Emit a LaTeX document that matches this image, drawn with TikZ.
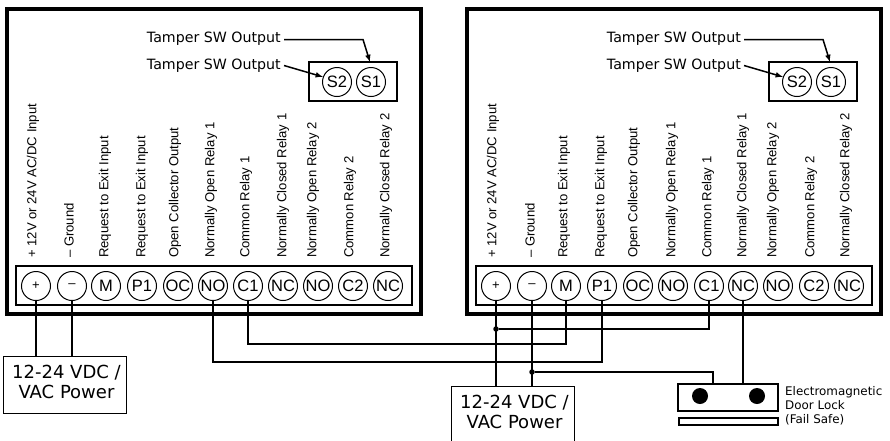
\documentclass[tikz,border=0pt]{standalone}
\usepackage{fontspec}
\setmainfont{Liberation Sans}
\newfontfamily\widefont{DejaVu Sans}
\tikzset{
    panel/.style = {draw, line width = 4pt},
    strip/.style = {draw, line width = 1.5pt},
    term/.style = {draw, circle, line width = 1pt, minimum size = 29pt, inner sep = 0pt, font = \fontsize{16.5}{16.5}\selectfont},
    wire/.style = {line width = 1.7pt},
    lead/.style = {line width = 1.5pt, -latex},
    pinlabel/.style = {rotate = 90, anchor = west, inner sep = 0pt, font = \fontsize{13.1}{14}\selectfont},
    tamper/.style = {anchor = east, inner sep = 0pt, font = \widefont\fontsize{14.2}{16}\selectfont},
    powerbox/.style = {draw, line width = 1pt, minimum width = 123pt, minimum height = 57pt},
    powertext/.style = {align = center, xshift = 1.5pt, yshift = 2.5pt, font = \widefont\fontsize{18}{20}\selectfont},
    junction/.style = {circle, fill = black, minimum size = 5.5pt, inner sep = 0pt}
}
\newcommand{\smallsign}[1]{{\fontsize{13}{13}\selectfont #1}}
\begin{document}
\begin{tikzpicture}[x = 1pt, y = -1pt]
    \useasboundingbox (0, 0) rectangle (890, 440);
    % the two controllers
    \foreach \p/\dx in {a/0, b/460}{
        \draw[panel] (7 + \dx, 9) rectangle (421 + \dx, 314);
        \draw[strip] (16 + \dx, 266) rectangle (412 + \dx, 305);
        \draw[strip] (309 + \dx, 62) rectangle (397 + \dx, 101);
        \node[term] (\p s2) at (337 + \dx, 82) {S2};
        \node[term] (\p s1) at (371 + \dx, 82) {S1};
        \node[tamper] (\p tone) at (281 + \dx, 38.5) {Tamper SW Output};
        \node[tamper] (\p ttwo) at (281 + \dx, 65.5) {Tamper SW Output};
        \draw[lead] (\p tone.east) ++(3, 1) -- ++(79, 0) -- (370 + \dx, 62);
        \draw[lead] (\p ttwo.east) ++(3, 0) -- (\p s2.160);
    }
    % left terminals
    \foreach \name/\x/\txt in {plus/36/{\smallsign{+}}, minus/72/{\smallsign{--}}, m/106/M, pone/142/P1, oc/178/OC, no/213/NO, cone/248/C1, nc/283/NC, nob/318/NO, ctwo/353/C2, ncb/388/NC}{
        \node[term] (a\name) at (\x, 286) {\txt};
    }
    % right terminals
    \foreach \name/\x/\txt in {plus/496/{\smallsign{+}}, minus/532/{\smallsign{--}}, m/566/M, pone/602/P1, oc/638/OC, no/673/NO, cone/709/C1, nc/743/NC, nob/778/NO, ctwo/814/C2, ncb/849/NC}{
        \node[term] (b\name) at (\x, 286) {\txt};
    }
    % pin labels
    \foreach \lx/\rx/\txt in {33/493/{+ 12V or 24V AC/DC Input}, 69/530/{-- Ground}, 105/564/{Request to Exit Input}, 142/601/{Request to Exit Input}, 175/634/{Open Collector Output}, 211/672/{Normally Open Relay 1}, 246/708/{Common Relay 1}, 283/743/{Normally Closed Relay 1}, 313/773/{Normally Open Relay 2}, 350/811/{Common Relay 2}, 386/846/{Normally Closed Relay 2}}{
        \node[pinlabel] at (\lx, 258) {\txt};
        \node[pinlabel] at (\rx, 258) {\txt};
    }
    % power supplies
    \node[powerbox] (pwra) at (65, 384.5) {};
    \node[powertext] (pwratext) at (pwra) {12-24 VDC /\\VAC Power};
    \node[powerbox] (pwrb) at (513, 414.5) {};
    \node[powertext] (pwrbtext) at (pwrb) {12-24 VDC /\\VAC Power};
    % door lock
    \coordinate (locka) at (713, 384);
    \coordinate (lockb) at (743, 384);
    \draw[line width = 1.5pt] (678, 384) rectangle (778, 411);
    \node[circle, fill = black, minimum size = 16pt, inner sep = 0pt] (dota) at (700, 396) {};
    \node[circle, fill = black, minimum size = 16pt, inner sep = 0pt] (dotb) at (757, 396) {};
    \draw[line width = 1.5pt] (679, 418) rectangle (778, 425);
    \node[anchor = west, inner sep = 0pt, align = left, font = \widefont\fontsize{11.9}{14}\selectfont] (locktext) at (785, 406) {Electromagnetic\\Door Lock\\(Fail Safe)};
    % wiring
    \draw[wire] (aplus) -- (aplus |- pwra.north);
    \draw[wire] (aminus) -- (aminus |- pwra.north);
    \draw[wire] (acone) |- (420, 344) -| (bm);
    \draw[wire] (ano) |- (420, 362) -| (bpone);
    \draw[wire] (bplus) -- (bplus |- pwrb.north);
    \draw[wire] (bminus) -- (bminus |- pwrb.north);
    \node[junction] (ja) at (bplus |- 0, 329) {};
    \node[junction] (jb) at (bminus |- 0, 372) {};
    \draw[wire] (ja) -| (bcone);
    \draw[wire] (jb) -| (locka);
    \draw[wire] (bnc) -- (lockb);
\end{tikzpicture}
\end{document}
